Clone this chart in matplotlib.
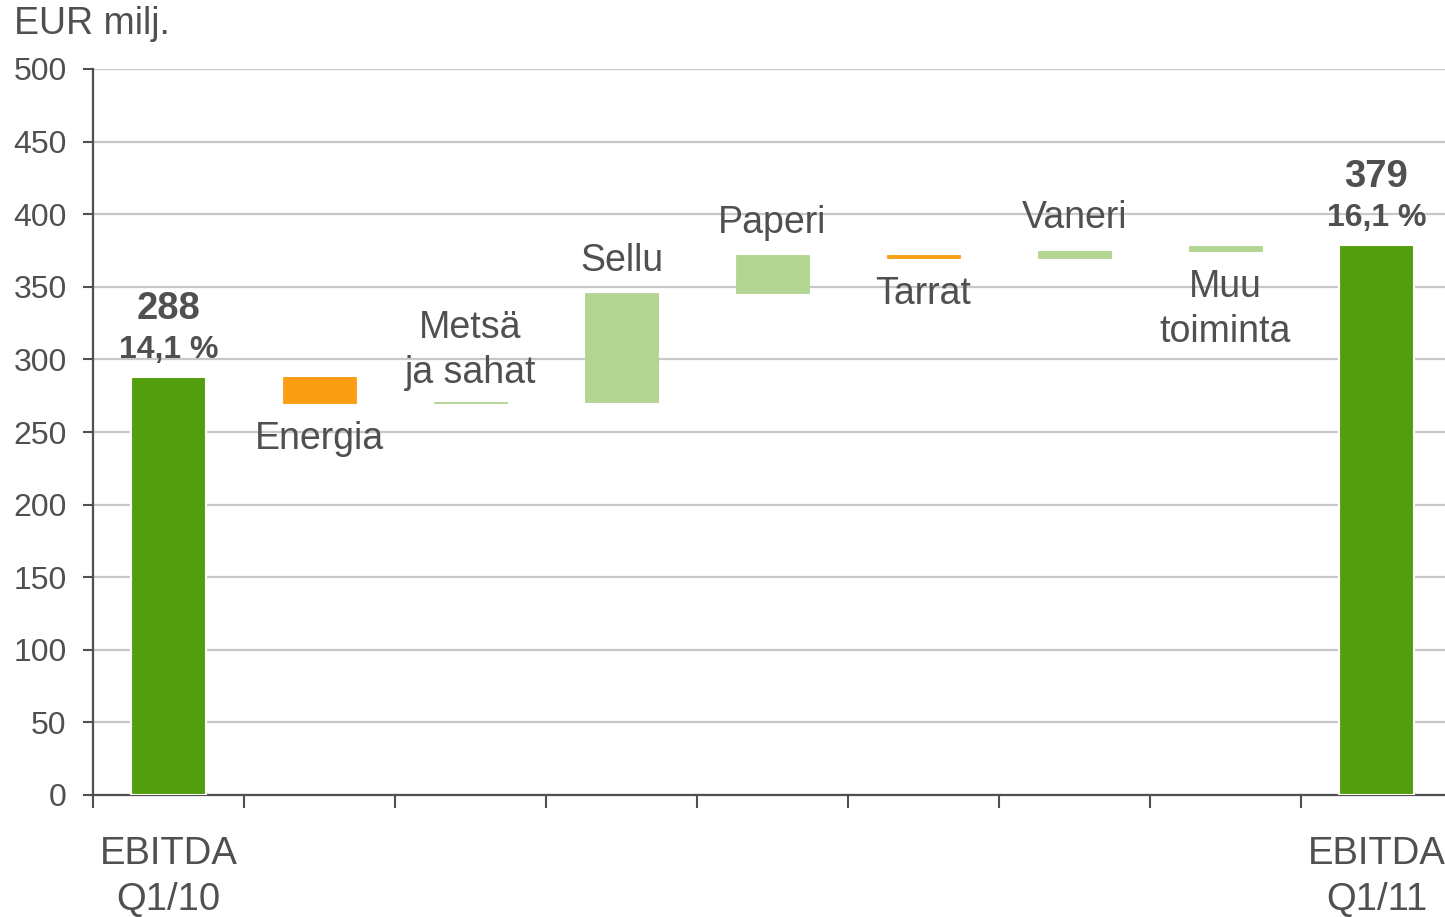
import matplotlib
matplotlib.use("Agg")
import matplotlib.pyplot as plt
import numpy as np

plt.rcParams['font.family'] = ['Liberation Sans', 'DejaVu Sans']

# ---- data ----
start_label = "EBITDA\nQ1/10"
end_label = "EBITDA\nQ1/11"
start_value = 288
end_value = 379
start_margin = "14,1 %"
end_margin = "16,1 %"
steps = ["Energia", "Metsä\nja sahat", "Sellu", "Paperi", "Tarrat", "Vaneri", "Muu\ntoiminta"]
deltas = [-18, 1, 75, 26, -2, 5, 3]
label_above = [False, True, True, True, False, True, False]
yticks = [0, 50, 100, 150, 200, 250, 300, 350, 400, 450, 500]
y_title = "EUR milj."

DARK = "#529e0c"
LIGHT = "#b2d592"
ORANGE = "#fb9e12"
TXT = "#505050"
GRID = "#c8c8c8"

PX = 72 / 100.0  # points per pixel at dpi 100

fig = plt.figure(figsize=(14.45, 9.17), dpi=100)
W, H = 1445, 917
ax = fig.add_axes([93 / W, 1 - 795 / H, (1452 - 93) / W, (795 - 69) / H])

n = len(steps) + 2
ax.set_xlim(-0.5, n - 0.5)
ax.set_ylim(0, 500)

bw = 0.5
ax.bar(0, start_value, width=bw, color=DARK, edgecolor="white", linewidth=1.5, zorder=3)
ax.bar(n - 1, end_value, width=bw, color=DARK, edgecolor="white", linewidth=1.5, zorder=3)

FS_CAT = 27
level = start_value
for i, (name, d, above) in enumerate(zip(steps, deltas, label_above)):
    x = i + 1
    col = ORANGE if d < 0 else LIGHT
    ax.bar(x, d, bottom=level, width=0.48, color=col, edgecolor=col, linewidth=0.6, zorder=3)
    top = max(level, level + d)
    bot = min(level, level + d)
    nl = name.count("\n")
    if above:
        off = (32 + 19 * nl) * PX
        ax.annotate(name, (x, top), xytext=(0, off), textcoords="offset points",
                    ha="center", va="center", fontsize=FS_CAT, color=TXT, linespacing=1.3)
    else:
        off = -(36 + 23 * nl) * PX
        ax.annotate(name, (x, bot), xytext=(0, off), textcoords="offset points",
                    ha="center", va="center", fontsize=FS_CAT, color=TXT, linespacing=1.3)
    level += d

# totals labels
for x, v, m in [(0, start_value, start_margin), (n - 1, end_value, end_margin)]:
    ax.annotate(m, (x, v), xytext=(0, 27 * PX), textcoords="offset points",
                ha="center", va="center", fontsize=23, color=TXT, fontweight="bold")
    ax.annotate(str(v), (x, v), xytext=(0, 68 * PX), textcoords="offset points",
                ha="center", va="center", fontsize=27.5, color=TXT, fontweight="bold")

# axes styling
ax.set_yticks(yticks)
ax.set_yticklabels([str(t) for t in yticks], fontsize=23, color=TXT)
ax.yaxis.grid(True, color=GRID, linewidth=1.6, zorder=0)
ax.set_axisbelow(True)
ax.tick_params(axis="y", length=7, width=1.5, color=TXT, pad=12)

ax.set_xticks(np.arange(-0.5, n - 0.5, 1.0))
ax.set_xticklabels([])
ax.tick_params(axis="x", length=9, width=1.5, color=TXT)
for x, lab in [(0, start_label), (n - 1, end_label)]:
    ax.annotate(lab, (x, 0), xycoords=("data", "axes fraction"), xytext=(0, -82 * PX),
                textcoords="offset points", ha="center", va="center",
                fontsize=27.5, color=TXT, linespacing=1.38)

for s in ["top", "right"]:
    ax.spines[s].set_visible(False)
for s in ["left", "bottom"]:
    ax.spines[s].set_color(TXT)
    ax.spines[s].set_linewidth(1.6)

fig.text(14 / W, 1 - 24 / H, y_title, ha="left", va="center", fontsize=27, color=TXT)

fig.savefig("out.png", dpi=100)
